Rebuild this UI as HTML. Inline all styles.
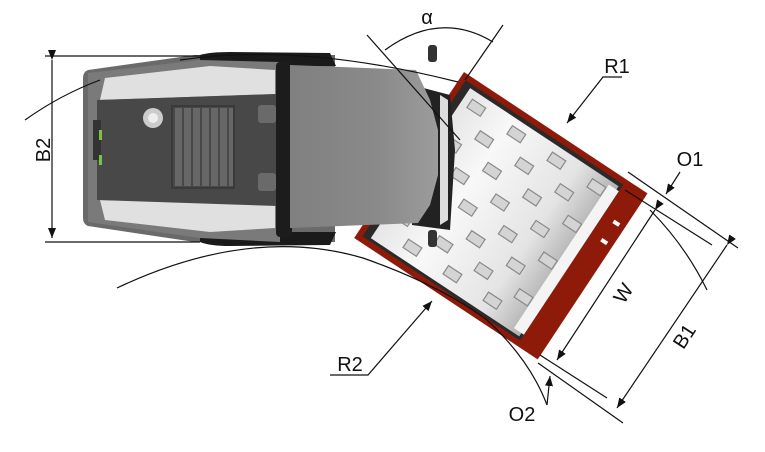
<!DOCTYPE html>
<html><head><meta charset="utf-8"><style>
html,body{margin:0;padding:0;background:#fff;width:765px;height:452px;overflow:hidden}
svg{display:block}
text{font-family:"Liberation Sans",sans-serif;fill:#111}
</style></head><body>
<svg width="765" height="452" viewBox="0 0 765 452" xmlns="http://www.w3.org/2000/svg">
<defs>
<marker id="ar" markerWidth="10" markerHeight="8" refX="10" refY="4" orient="auto" markerUnits="userSpaceOnUse"><path d="M0,0 L10,4 L0,8 Z" fill="#111"/></marker>
<linearGradient id="drum" x1="0" y1="0" x2="1" y2="0"><stop offset="0" stop-color="#e6e6e6"/><stop offset="0.3" stop-color="#f8f8f8"/><stop offset="0.75" stop-color="#e4e4e4"/><stop offset="1" stop-color="#b0b0b0"/></linearGradient>
<linearGradient id="roof" x1="0" y1="0" x2="1" y2="0"><stop offset="0" stop-color="#808080"/><stop offset="0.6" stop-color="#8a8a8a"/><stop offset="1" stop-color="#9c9c9c"/></linearGradient>
</defs>

<!-- drum assembly (behind cab) -->
<g transform="translate(464,72) rotate(33.5)">
<rect x="0" y="0" width="220" height="199" fill="#8e1a0a"/>
<rect x="6" y="6" width="190" height="187" fill="#2a2a2a"/>
<rect x="14" y="10" width="178" height="180" fill="url(#drum)"/>
<rect x="183" y="14" width="12" height="172" fill="#f4f4f4"/>
<rect x="195" y="3" width="25" height="195" fill="#8e1a0a"/>
<rect x="207" y="40" width="7" height="4" fill="#fff"/><rect x="207" y="62" width="7" height="4" fill="#fff"/>
<g fill="#d4d4d4" stroke="#8a8a8a" stroke-width="1.2">
<rect x="22" y="18" width="16" height="10"/><rect x="70" y="18" width="16" height="10"/><rect x="118" y="18" width="16" height="10"/><rect x="166" y="18" width="16" height="10"/>
<rect x="46" y="40" width="16" height="10"/><rect x="94" y="40" width="16" height="10"/><rect x="142" y="40" width="16" height="10"/>
<rect x="22" y="62" width="16" height="10"/><rect x="70" y="62" width="16" height="10"/><rect x="118" y="62" width="16" height="10"/><rect x="166" y="62" width="16" height="10"/>
<rect x="46" y="84" width="16" height="10"/><rect x="94" y="84" width="16" height="10"/><rect x="142" y="84" width="16" height="10"/>
<rect x="22" y="106" width="16" height="10"/><rect x="70" y="106" width="16" height="10"/><rect x="118" y="106" width="16" height="10"/><rect x="166" y="106" width="16" height="10"/>
<rect x="46" y="128" width="16" height="10"/><rect x="94" y="128" width="16" height="10"/><rect x="142" y="128" width="16" height="10"/>
<rect x="22" y="150" width="16" height="10"/><rect x="70" y="150" width="16" height="10"/><rect x="118" y="150" width="16" height="10"/><rect x="166" y="150" width="16" height="10"/>
<rect x="46" y="170" width="16" height="10"/><rect x="94" y="170" width="16" height="10"/><rect x="142" y="170" width="16" height="10"/>
</g>
</g>

<!-- rear body -->
<path d="M88,70 L195,55 L335,55 L335,242 L195,242 L88,226 Q83,224 83,218 L83,78 Q83,72 88,70Z" fill="#6a6a6a"/>
<path d="M200,55 Q210,52 230,52 L330,53 L336,66 L200,66Z" fill="#1a1a1a"/>
<path d="M200,242 Q210,246 230,246 L330,245 L336,232 L200,232Z" fill="#1a1a1a"/>
<path d="M88,73 L200,60 L280,62 L280,242 L200,238 L88,222Z" fill="#7a7a7a"/>
<path d="M105,78 L210,66 L275,70 L275,94 L100,100Z" fill="#e0e0e0"/>
<path d="M105,220 L210,232 L275,228 L275,205 L100,200Z" fill="#e0e0e0"/>
<path d="M97,100 L278,94 L278,206 L97,200 Z" fill="#484848"/>
<g fill="#676767">
<rect x="175" y="108" width="7" height="78"/><rect x="184" y="108" width="7" height="78"/><rect x="193" y="108" width="7" height="78"/><rect x="202" y="108" width="7" height="78"/><rect x="211" y="108" width="7" height="78"/><rect x="220" y="108" width="7" height="78"/><rect x="229" y="108" width="5" height="78"/>
</g>
<rect x="172" y="106" width="62" height="82" fill="none" stroke="#3a3a3a" stroke-width="2"/>
<circle cx="153" cy="118" r="10" fill="#ccc"/><circle cx="153" cy="118" r="5" fill="#eee"/>
<rect x="258" y="105" width="18" height="18" rx="3" fill="#6a6a6a"/>
<rect x="258" y="173" width="18" height="18" rx="3" fill="#6a6a6a"/>
<rect x="93" y="120" width="8" height="40" fill="#333"/>
<rect x="99" y="130" width="3" height="10" fill="#7bc24a"/><rect x="99" y="155" width="3" height="10" fill="#7bc24a"/>
<!-- cab frame -->
<rect x="276" y="62" width="16" height="175" rx="4" fill="#1c1c1c"/>
<!-- joint -->
<path d="M412,85 L450,95 L455,150 L450,230 L412,225 Z" fill="#222"/>
<path d="M440,95 L448,100 L448,220 L440,225 Z" fill="#ddd"/>
<!-- cab roof -->
<path d="M290,65 L416,70 L430,100 L438,130 L438,175 L430,205 L418,223 L290,228 Z" fill="url(#roof)"/>
<!-- mirrors -->
<rect x="428" y="45" width="9" height="17" rx="3" fill="#333"/>
<rect x="428" y="230" width="9" height="17" rx="3" fill="#333"/>

<!-- dimension lines -->
<g stroke="#111" stroke-width="1.2" fill="none">
<line x1="45" y1="56" x2="200" y2="56"/>
<line x1="45" y1="242" x2="200" y2="242"/>
<line x1="52" y1="60" x2="52" y2="238" marker-start="url(#ar)" marker-end="url(#ar)"/>
<path d="M25,120 Q60,95 100,80"/>
<path d="M180,60 Q300,42 458,82"/>
<path d="M117,288 Q250,225 363,258 Q440,285 487,320 Q530,360 547,405"/>
<path d="M650,210 Q685,245 707,290"/>
<line x1="367" y1="35" x2="460" y2="140"/>
<line x1="503" y1="25" x2="465" y2="80"/>
<path d="M385,50 Q440,10 493,42"/>
<line x1="628" y1="172" x2="738" y2="248"/>
<line x1="625" y1="190" x2="712" y2="245"/>
<line x1="540" y1="355" x2="607" y2="398"/>
<line x1="538" y1="363" x2="623" y2="423"/>
<line x1="680" y1="172" x2="666" y2="194" marker-end="url(#ar)"/>
<line x1="655" y1="210" x2="557" y2="360" marker-start="url(#ar)" marker-end="url(#ar)"/>
<line x1="727" y1="245" x2="617" y2="408" marker-start="url(#ar)" marker-end="url(#ar)"/>
<line x1="547" y1="405" x2="550" y2="376" marker-end="url(#ar)"/>
<polyline points="622,77 603,77 567,123" marker-end="url(#ar)"/>
<polyline points="330,375 368,375 432,301" marker-end="url(#ar)"/>
</g>
<text x="427" y="24" font-size="20" text-anchor="middle">α</text>
<text x="617" y="73" font-size="20" text-anchor="middle">R1</text>
<text x="690" y="166" font-size="20" text-anchor="middle">O1</text>
<text x="350" y="371" font-size="20" text-anchor="middle">R2</text>
<text x="522" y="421" font-size="20" text-anchor="middle">O2</text>
<text transform="translate(50,150) rotate(-90)" font-size="20" text-anchor="middle">B2</text>
<text transform="translate(629,297) rotate(-57)" font-size="20" text-anchor="middle">W</text>
<text transform="translate(690,340) rotate(-57)" font-size="20" text-anchor="middle">B1</text>
</svg>
</body></html>
